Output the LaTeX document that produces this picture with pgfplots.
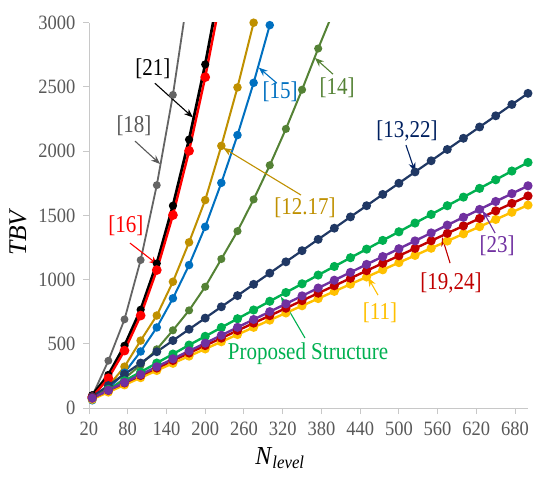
\documentclass[border=0pt]{standalone}
\usepackage{pgfplots}
\pgfplotsset{compat=1.18}
\usetikzlibrary{arrows.meta}
\usepackage{fontspec}
\setmainfont{Liberation Serif}
\definecolor{axisgray}{RGB}{200,200,200}
\definecolor{tickgray}{HTML}{595959}
\definecolor{cGray}{HTML}{646464}
\definecolor{cRed}{HTML}{FF0000}
\definecolor{cGold}{HTML}{BF9000}
\definecolor{cBlue}{HTML}{0070C0}
\definecolor{cOlive}{HTML}{548235}
\definecolor{cNavy}{HTML}{203864}
\definecolor{tNavy}{HTML}{002060}
\definecolor{cGreen}{HTML}{00B050}
\definecolor{cYellow}{HTML}{FFC000}
\definecolor{cDRed}{HTML}{C00000}
\definecolor{cPurple}{HTML}{7030A0}
\begin{document}
\begin{tikzpicture}
\useasboundingbox (-89pt,-76pt) rectangle (445pt,408pt);
\begin{axis}[
  at={(0pt,0pt)}, anchor=south west,
  scale only axis, width=439pt, height=385.3pt,
  xmin=20, xmax=700, ymin=0, ymax=3000,
  axis lines=left,
  axis line style={-, draw=axisgray, line width=0.9pt},
  xtick={20,80,...,680}, ytick={0,500,...,3000},
  tick align=outside, major tick length=6pt,
  tick style={draw=axisgray, line width=0.9pt},
  every tick label/.append style={font=\fontsize{18.5}{20}\selectfont, text=tickgray, yscale=1.1},
  /pgf/number format/assume math mode=true,
  /pgf/number format/1000 sep={},
  xticklabel style={yshift=-4pt},
  yticklabel style={xshift=-4pt},
  xlabel={\textit{N}\textsubscript{\textit{level}}},
  xlabel style={at={(axis description cs:0.435,-0.102)}, anchor=north, inner sep=0pt, font=\fontsize{24}{26}\selectfont, yscale=1.08},
  ylabel={\textit{TBV}},
  ylabel style={at={(axis description cs:-0.162,0.457)}, anchor=center, rotate=0, font=\fontsize{25.5}{28}\selectfont},
  every axis plot/.append style={mark=*, line width=2.2pt, mark options={solid}},
  clip marker paths=false,
]
% [18]
\addplot[color=cGray, line width=1.8pt, mark size=3pt] coordinates {
(25,93)(50,368)(75,690)(100,1152)(125,1735)(150,2438)(175,3280)};
% [21]
\addplot[color=black, line width=2.8pt, mark size=2.6pt] coordinates {
(25,100)(50,258)(75,485)(100,765)(125,1125)(150,1575)(175,2090)(200,2675)(225,3340)};
% [16]
\addplot[color=cRed, line width=2.4pt, mark size=3.6pt] coordinates {
(25,85)(50,232)(75,447)(100,720)(125,1074)(150,1502)(175,2002)(200,2576)(225,3220)};
% [12.17]
\addplot[color=cGold, line width=2pt, mark size=3.2pt] coordinates {
(25,65)(50,170)(75,322)(100,525)(125,720)(150,983)(175,1290)(200,1619)(225,2041)(250,2496)(275,3000)};
% [15]
\addplot[color=cBlue, line width=2pt, mark size=3.2pt] coordinates {
(25,60)(50,150)(75,275)(100,440)(125,627)(150,854)(175,1113)(200,1411)(225,1753)(250,2125)(275,2532)(300,2981)};
% [14]
\addplot[color=cOlive, line width=2pt, mark size=3pt] coordinates {
(25,65)(50,140)(75,230)(100,335)(125,457)(150,605)(175,760)(200,944)(225,1160)(250,1377)(275,1624)(300,1890)(325,2173)(350,2478)(375,2799)(400,3105)};
% [13,22]
\addplot[color=cNavy, line width=2.2pt, mark size=3.3pt] coordinates {
(25,88)(50,175)(75,263)(100,350)(125,438)(150,525)(175,613)(200,700)(225,788)(250,875)(275,963)(300,1050)(325,1138)(350,1225)(375,1313)(400,1400)(425,1488)(450,1575)(475,1663)(500,1750)(525,1838)(550,1925)(575,2013)(600,2100)(625,2188)(650,2275)(675,2363)(700,2450)};
% Proposed
\addplot[color=cGreen, line width=2.4pt, mark size=3.3pt] coordinates {
(25,75)(50,145)(75,212)(100,280)(125,350)(150,420)(175,490)(200,558)(225,627)(250,695)(275,763)(300,831)(325,899)(350,967)(375,1035)(400,1102)(425,1170)(450,1237)(475,1305)(500,1372)(525,1440)(550,1507)(575,1575)(600,1642)(625,1710)(650,1777)(675,1845)(700,1912)};
% [11]
\addplot[color=cYellow, line width=2.4pt, mark size=3.3pt] coordinates {
(25,68)(50,124)(75,180)(100,236)(125,292)(150,348)(175,404)(200,460)(225,516)(250,572)(275,628)(300,684)(325,740)(350,796)(375,852)(400,908)(425,964)(450,1020)(475,1076)(500,1132)(525,1188)(550,1244)(575,1300)(600,1356)(625,1412)(650,1468)(675,1524)(700,1580)};
% [19,24]
\addplot[color=cDRed, line width=2.4pt, mark size=3.3pt] coordinates {
(25,78)(50,137)(75,195)(100,253)(125,311)(150,370)(175,428)(200,486)(225,544)(250,603)(275,661)(300,719)(325,777)(350,836)(375,894)(400,952)(425,1010)(450,1069)(475,1127)(500,1185)(525,1243)(550,1302)(575,1360)(600,1418)(625,1476)(650,1535)(675,1593)(700,1651)};
% [23]
\addplot[color=cPurple, line width=2.4pt, mark size=3.3pt] coordinates {
(25,76)(50,138)(75,199)(100,260)(125,321)(150,383)(175,444)(200,505)(225,566)(250,628)(275,689)(300,750)(325,811)(350,873)(375,934)(400,995)(425,1056)(450,1118)(475,1179)(500,1240)(525,1301)(550,1363)(575,1424)(600,1485)(625,1546)(650,1608)(675,1669)(700,1730)};

\tikzset{lab/.style={font=\fontsize{21}{23}\selectfont, inner sep=0pt, yscale=1.15},
         arr/.style={-{Stealth[length=9pt,width=7pt]}, line width=1.1pt}}
\node[lab, text=black] at (axis cs:119,2638) {[21]};
\draw[arr, black] (axis cs:122,2529) -- (axis cs:181,2262);
\node[lab, text=tickgray] at (axis cs:89.7,2195) {[18]};
\draw[arr, tickgray] (axis cs:91.3,2078) -- (axis cs:130,1900);
\node[lab, text=cRed] at (axis cs:77.3,1416) {[16]};
\draw[arr, cRed] (axis cs:83.5,1284) -- (axis cs:126.9,1115);
\node[lab, text=cBlue] at (axis cs:315.9,2459) {[15]};
\draw[arr, cBlue] (axis cs:311,2529) -- (axis cs:283,2650);
\node[lab, text=cOlive] at (axis cs:404.2,2490) {[14]};
\draw[arr, cOlive] (axis cs:398,2599) -- (axis cs:370,2725);
\node[lab, text=tNavy] at (axis cs:512.6,2156) {[13,22]};
\draw[arr, tNavy] (axis cs:511,2047) -- (axis cs:525,1840);
\node[lab, text=cGold] at (axis cs:354.6,1556) {[12.17]};
\draw[arr, cGold] (axis cs:348.4,1658) -- (axis cs:228,2025);
\node[lab, text=cGreen] at (axis cs:359.3,420) {Proposed Structure};
\draw[arr, cGreen] (axis cs:354.6,545) -- (axis cs:317.4,866);
\node[lab, text=cYellow] at (axis cs:470.8,739) {[11]};
\draw[arr, cYellow] (axis cs:467.7,879) -- (axis cs:452.2,1015);
\node[lab, text=cDRed] at (axis cs:580.8,973) {[19,24]};
\draw[arr, cDRed] (axis cs:579.3,1128) -- (axis cs:566.9,1330);
\node[lab, text=cPurple] at (axis cs:652.1,1261) {[23]};
\draw[arr, cPurple] (axis cs:649,1362) -- (axis cs:630,1535);
\end{axis}
\end{tikzpicture}
\end{document}
